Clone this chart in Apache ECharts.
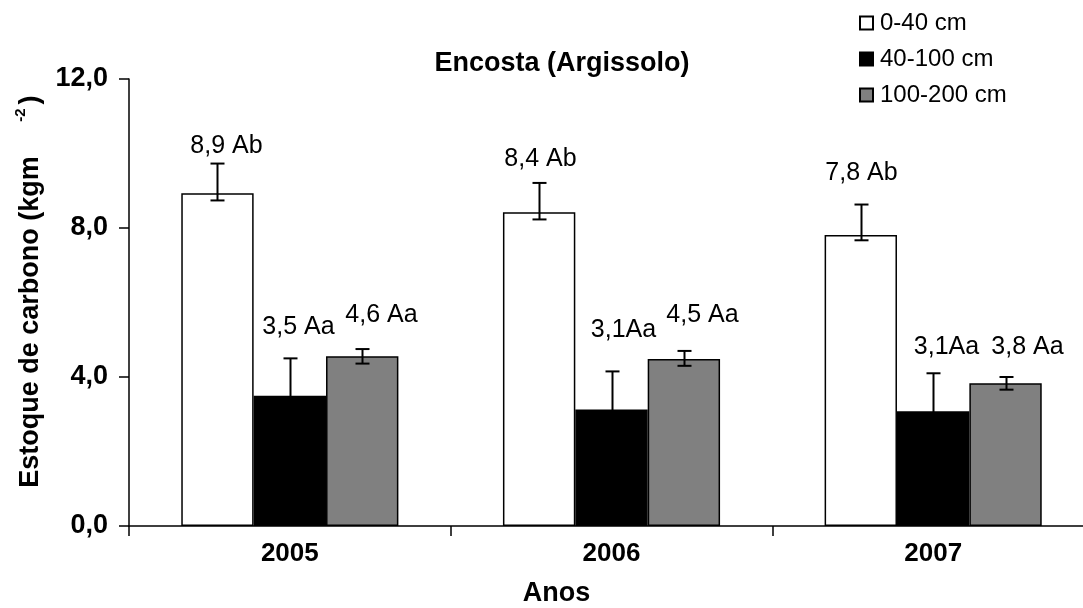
<!DOCTYPE html>
<html><head><meta charset="utf-8">
<script src="https://cdn.jsdelivr.net/npm/echarts@6/dist/echarts.min.js"></script>
<style>html,body{margin:0;padding:0;background:#fff}#c{width:1083px;height:608px}</style>
</head><body><div id="c"></div>
<script>
// ---- data ----
const categories = ['2005', '2006', '2007'];
const seriesNames = ['0-40 cm', '40-100 cm', '100-200 cm'];
const values040 = [8.93, 8.42, 7.81];
const values40100 = [3.50, 3.13, 3.08];
const values100200 = [4.56, 4.48, 3.83];
const errLow040 = [8.74, 8.23, 7.67];
const errHigh040 = [9.73, 9.21, 8.63];
const errLow40100 = [2.50, 2.12, 2.06];
const errHigh40100 = [4.50, 4.15, 4.10];
const errLow100200 = [4.36, 4.30, 3.66];
const errHigh100200 = [4.75, 4.70, 4.00];
const labels040 = ['8,9 Ab', '8,4 Ab', '7,8 Ab'];
const labels40100 = ['3,5 Aa', '3,1Aa', '3,1Aa'];
const labels100200 = ['4,6 Aa', '4,5 Aa', '3,8 Aa'];
const yMin = 0, yMax = 12, yStep = 4;

// ---- style ----
const FONT = "'Liberation Sans', Arial, sans-serif";
const barColors = ['#ffffff', '#000000', '#808080'];
const gapRatio = 0.325;
// label nudges [dx, dy] relative to bar centre / error-bar top (px)
const labelNudge = [
  [[9, -17], [1, -24], [0, -31]],
  [[8, -31], [11, -41], [13, -26]],
  [[19, -34], [18, -36], [21, -30]]
];

const chart = echarts.init(document.getElementById('c'), null, {renderer: 'canvas'});

function barSeries(k, vals) {
  return {
    type: 'bar', name: seriesNames[k], data: vals,
    barGap: '0%', barCategoryGap: (gapRatio * 100) + '%',
    itemStyle: {color: barColors[k], borderColor: '#000', borderWidth: 1.5},
    emphasis: {disabled: true}, z: 2
  };
}
function errSeries(k, low, high, labels) {
  return {
    type: 'custom', name: 'err' + k, z: 5, silent: true,
    data: categories.map((c, i) => [i, low[i], high[i]]),
    renderItem(params, api) {
      const i = api.value(0);
      const band = api.size([1, 0])[0];
      const bw = band * (1 - gapRatio) / 3;
      const top = api.coord([i, api.value(2)]);
      const bot = api.coord([i, api.value(1)]);
      const x = Math.round(top[0] + (k - 1) * bw) + 0.5;
      const cap = 7;
      const nd = labelNudge[k][i];
      const ls = {stroke: '#000', lineWidth: 2};
      return {type: 'group', children: [
        {type: 'line', shape: {x1: x, y1: top[1], x2: x, y2: bot[1]}, style: ls},
        {type: 'line', shape: {x1: x - cap, y1: top[1], x2: x + cap, y2: top[1]}, style: ls},
        {type: 'line', shape: {x1: x - cap, y1: bot[1], x2: x + cap, y2: bot[1]}, style: ls},
        {type: 'text', x: x + nd[0], y: top[1] + nd[1],
         style: {text: labels[i], fill: '#000', font: '25px ' + FONT, align: 'center', verticalAlign: 'middle'}}
      ]};
    }
  };
}

const option = {
  backgroundColor: '#fff',
  animation: false,
  textStyle: {fontFamily: FONT, color: '#000'},
  title: {
    text: 'Encosta (Argissolo)', left: 562, top: 50, textAlign: 'center', padding: 0,
    textStyle: {fontFamily: FONT, fontWeight: 'bold', fontSize: 27, color: '#000'}
  },
  legend: {
    data: seriesNames, orient: 'vertical', left: 859, top: 11, padding: 0,
    itemWidth: 13, itemHeight: 13, itemGap: 12, icon: 'rect',
    textStyle: {fontFamily: FONT, fontSize: 24, color: '#000', padding: [0, 0, 0, 2]},
    selectedMode: false
  },
  grid: {left: 129, top: 79, bottom: 82, width: 965, containLabel: false, outerBoundsMode: 'none'},
  xAxis: {
    type: 'category', data: categories, boundaryGap: true,
    axisLine: {lineStyle: {color: '#000', width: 1.5}},
    axisTick: {show: true, length: 10, interval: 0, lineStyle: {color: '#000', width: 1.5}},
    axisLabel: {fontFamily: FONT, fontWeight: 'bold', fontSize: 26, color: '#000', margin: 15, interval: 0},
    name: 'Anos', nameLocation: 'middle', nameGap: 54,
    nameTextStyle: {fontFamily: FONT, fontWeight: 'bold', fontSize: 27, color: '#000', padding: [0, 110, 0, 0]}
  },
  yAxis: {
    type: 'value', min: yMin, max: yMax, interval: yStep,
    axisLine: {show: true, lineStyle: {color: '#000', width: 1.5}},
    axisTick: {show: true, length: 10, lineStyle: {color: '#000', width: 1.5}},
    splitLine: {show: false},
    axisLabel: {fontFamily: FONT, fontWeight: 'bold', fontSize: 27, color: '#000', margin: 21,
      formatter: v => v.toFixed(1).replace('.', ',')}
  },
  graphic: [
    {type: 'text', x: 31, y: 322, rotation: Math.PI / 2,
     style: {text: 'Estoque de carbono (kgm', font: 'bold 27px ' + FONT, fill: '#000', align: 'center', verticalAlign: 'middle'}},
    {type: 'text', x: 21, y: 115, rotation: Math.PI / 2,
     style: {text: '-2', font: 'bold 15px ' + FONT, fill: '#000', align: 'center', verticalAlign: 'middle'}},
    {type: 'text', x: 31, y: 100, rotation: Math.PI / 2,
     style: {text: ')', font: 'bold 27px ' + FONT, fill: '#000', align: 'center', verticalAlign: 'middle'}}
  ],
  series: [
    barSeries(0, values040), barSeries(1, values40100), barSeries(2, values100200),
    errSeries(0, errLow040, errHigh040, labels040),
    errSeries(1, errLow40100, errHigh40100, labels40100),
    errSeries(2, errLow100200, errHigh100200, labels100200)
  ]
};
chart.setOption(option);
</script></body></html>
